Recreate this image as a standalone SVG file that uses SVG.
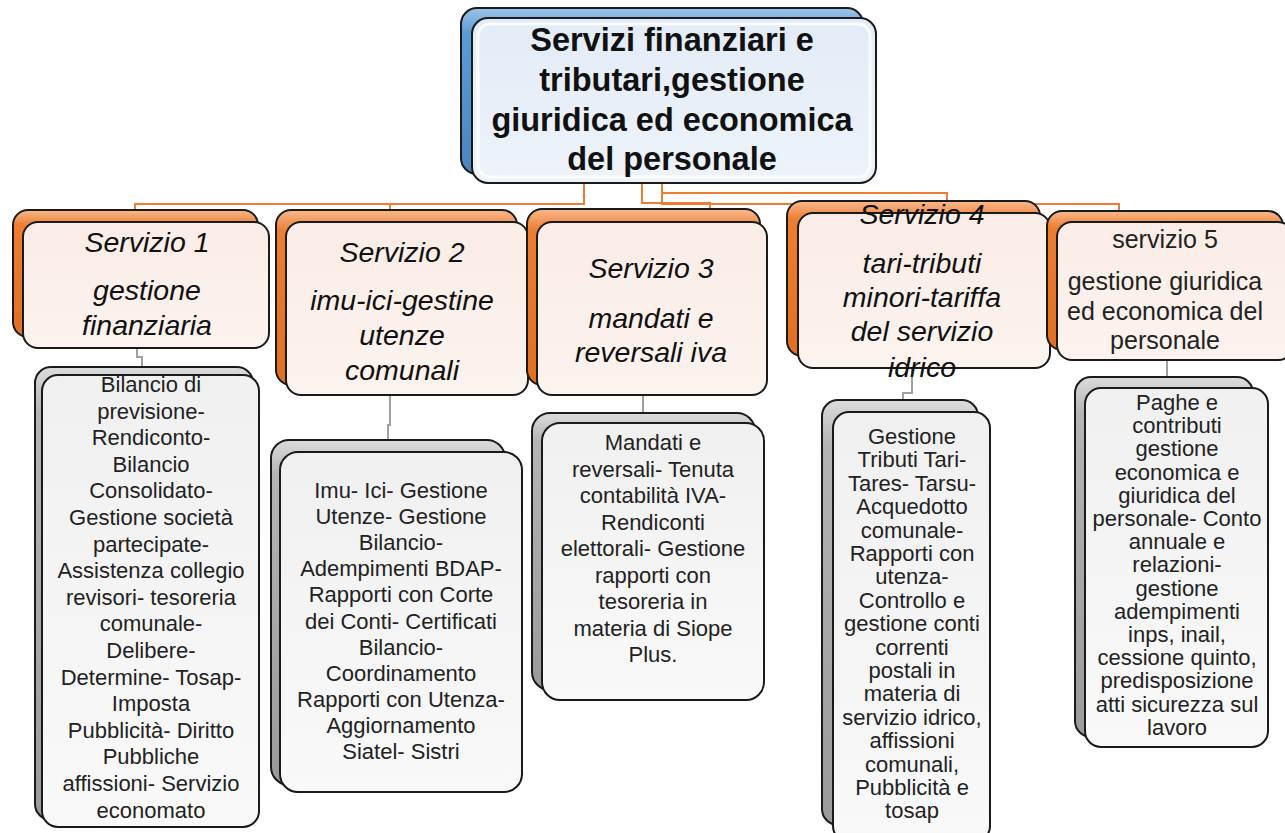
<svg xmlns="http://www.w3.org/2000/svg" width="1285" height="833" viewBox="0 0 1285 833">
<style>
.bk{stroke:#1a1a1a;stroke-width:2}
.fr{stroke:#1a1a1a;stroke-width:2}
.hl{fill:none;stroke:#ffffff;stroke-width:3;opacity:0.8}
.oc{fill:none;stroke:#ed7d31;stroke-width:2}
.gc{fill:none;stroke:#a0a0a0;stroke-width:2}
.tt{font-family:"Liberation Sans",Arial,sans-serif;font-weight:bold;font-size:32.5px;fill:#111;text-anchor:middle}
.st{font-family:"Liberation Sans",Arial,sans-serif;font-style:italic;font-size:28.5px;fill:#111;text-anchor:middle}
.s5{font-family:"Liberation Sans",Arial,sans-serif;font-size:25px;fill:#222;text-anchor:middle}
.ct{font-family:"Liberation Sans",Arial,sans-serif;font-size:22px;fill:#222;text-anchor:middle}
</style>
<defs>
<linearGradient id="gBlue" x1="0" y1="0" x2="0" y2="1"><stop offset="0" stop-color="#9dc3e6"/><stop offset="0.15" stop-color="#5b9bd5"/><stop offset="1" stop-color="#4a86c0"/></linearGradient>
<linearGradient id="gBlueF" x1="0" y1="0" x2="0" y2="1"><stop offset="0" stop-color="#e2ebf7"/><stop offset="1" stop-color="#eef3fa"/></linearGradient>
<linearGradient id="gOr" x1="0" y1="0" x2="0" y2="1"><stop offset="0" stop-color="#f8b98e"/><stop offset="0.12" stop-color="#ed7d31"/><stop offset="1" stop-color="#e06f22"/></linearGradient>
<linearGradient id="gOrF" x1="0" y1="0" x2="0" y2="1"><stop offset="0" stop-color="#faece6"/><stop offset="1" stop-color="#fcf3ef"/></linearGradient>
<linearGradient id="gGr" x1="0" y1="0" x2="0" y2="1"><stop offset="0" stop-color="#dcdcdc"/><stop offset="0.1" stop-color="#b4b4b4"/><stop offset="1" stop-color="#9a9a9a"/></linearGradient>
<linearGradient id="gGrF" x1="0" y1="0" x2="0" y2="1"><stop offset="0" stop-color="#f0f0f0"/><stop offset="1" stop-color="#f9f9f9"/></linearGradient>
</defs>

<g id="connectors">
<path class="oc" d="M584,184 V204 H135 V211"/>
<path class="oc" d="M390,204 V211"/>
<path class="oc" d="M642,184 V203 H710 V210"/>
<path class="oc" d="M662,184 V193 H947 V202"/>
<path class="oc" d="M662,193 V204 H1119 V212"/>
<path class="gc" d="M137,348 V357 H142 V368"/>
<path class="gc" d="M390,395 V425 H388 V441"/>
<path class="gc" d="M643,395 V414"/>
<path class="gc" d="M912,368 V393 H903 V401"/>
<path class="gc" d="M1167,360 V378"/>
</g>

<g id="root">
<rect class="bk" x="461" y="8" width="402" height="166" rx="16" fill="url(#gBlue)"/>
<rect class="fr" x="472" y="18" width="404" height="165" rx="16" fill="url(#gBlueF)"/>
<rect class="hl" x="478" y="24" width="392" height="153" rx="12" opacity="0.5"/>
<text class="tt" x="672" y="51">Servizi finanziari e</text>
<text class="tt" x="672" y="91">tributari,gestione</text>
<text class="tt" x="672" y="131">giuridica ed economica</text>
<text class="tt" x="672" y="170">del personale</text>
</g>

<g id="servizio1">
<rect class="bk" x="13" y="210" width="245" height="127" rx="15" fill="url(#gOr)"/>
<rect class="fr" x="23" y="222" width="246" height="126" rx="15" fill="url(#gOrF)"/>
<text class="st" x="147" y="252">Servizio 1</text>
<text class="st" x="147" y="300">gestione</text>
<text class="st" x="147" y="335">finanziaria</text>
</g>

<g id="servizio2">
<rect class="bk" x="276" y="210" width="241" height="175" rx="15" fill="url(#gOr)"/>
<rect class="fr" x="286" y="222" width="242" height="173" rx="15" fill="url(#gOrF)"/>
<text class="st" x="402" y="262">Servizio 2</text>
<text class="st" x="402" y="310">imu-ici-gestine</text>
<text class="st" x="402" y="345">utenze</text>
<text class="st" x="402" y="380">comunali</text>
</g>

<g id="servizio3">
<rect class="bk" x="527" y="209" width="233" height="176" rx="15" fill="url(#gOr)"/>
<rect class="fr" x="537" y="222" width="230" height="173" rx="15" fill="url(#gOrF)"/>
<text class="st" x="651" y="278">Servizio 3</text>
<text class="st" x="651" y="328">mandati e</text>
<text class="st" x="651" y="362">reversali iva</text>
</g>

<g id="servizio4">
<rect class="bk" x="787" y="201" width="253" height="155" rx="15" fill="url(#gOr)"/>
<rect class="fr" x="798" y="213" width="252" height="155" rx="15" fill="url(#gOrF)"/>
<text class="st" x="922" y="224">Servizio 4</text>
<text class="st" x="922" y="273">tari-tributi</text>
<text class="st" x="922" y="307">minori-tariffa</text>
<text class="st" x="922" y="341">del servizio</text>
<text class="st" x="922" y="377">idrico</text>
</g>

<g id="servizio5">
<rect class="bk" x="1047" y="211" width="236" height="139" rx="15" fill="url(#gOr)"/>
<rect class="fr" x="1057" y="222" width="236" height="138" rx="15" fill="url(#gOrF)"/>
<text class="s5" x="1165" y="248">servizio 5</text>
<text class="s5" x="1165" y="290">gestione giuridica</text>
<text class="s5" x="1165" y="320">ed economica del</text>
<text class="s5" x="1165" y="349">personale</text>
</g>

<g id="contenuto1">
<rect class="bk" x="35" y="367" width="218" height="453" rx="16" fill="url(#gGr)"/>
<rect class="fr" x="42" y="375" width="217" height="452" rx="16" fill="url(#gGrF)"/>
<text class="ct" x="151" y="392">Bilancio di</text>
<text class="ct" x="151" y="418.6">previsione-</text>
<text class="ct" x="151" y="445.2">Rendiconto-</text>
<text class="ct" x="151" y="471.8">Bilancio</text>
<text class="ct" x="151" y="498.4">Consolidato-</text>
<text class="ct" x="151" y="525">Gestione società</text>
<text class="ct" x="151" y="551.6">partecipate-</text>
<text class="ct" x="151" y="578.2">Assistenza collegio</text>
<text class="ct" x="151" y="604.8">revisori- tesoreria</text>
<text class="ct" x="151" y="631.4">comunale-</text>
<text class="ct" x="151" y="658">Delibere-</text>
<text class="ct" x="151" y="684.6">Determine- Tosap-</text>
<text class="ct" x="151" y="711.2">Imposta</text>
<text class="ct" x="151" y="737.8">Pubblicità- Diritto</text>
<text class="ct" x="151" y="764.4">Pubbliche</text>
<text class="ct" x="151" y="791">affissioni- Servizio</text>
<text class="ct" x="151" y="817.6">economato</text>
</g>

<g id="contenuto2">
<rect class="bk" x="271" y="440" width="234" height="345" rx="18" fill="url(#gGr)"/>
<rect class="fr" x="280" y="452" width="242" height="340" rx="18" fill="url(#gGrF)"/>
<text class="ct" x="401" y="498">Imu- Ici- Gestione</text>
<text class="ct" x="401" y="524.1">Utenze- Gestione</text>
<text class="ct" x="401" y="550.2">Bilancio-</text>
<text class="ct" x="401" y="576.3">Adempimenti BDAP-</text>
<text class="ct" x="401" y="602.4">Rapporti con Corte</text>
<text class="ct" x="401" y="628.5">dei Conti- Certificati</text>
<text class="ct" x="401" y="654.6">Bilancio-</text>
<text class="ct" x="401" y="680.7">Coordinamento</text>
<text class="ct" x="401" y="706.8">Rapporti con Utenza-</text>
<text class="ct" x="401" y="732.9">Aggiornamento</text>
<text class="ct" x="401" y="759">Siatel- Sistri</text>
</g>

<g id="contenuto3">
<rect class="bk" x="532" y="413" width="223" height="277" rx="18" fill="url(#gGr)"/>
<rect class="fr" x="542" y="423" width="222" height="277" rx="18" fill="url(#gGrF)"/>
<text class="ct" x="653" y="450">Mandati e</text>
<text class="ct" x="653" y="476.5">reversali- Tenuta</text>
<text class="ct" x="653" y="503">contabilità IVA-</text>
<text class="ct" x="653" y="529.5">Rendiconti</text>
<text class="ct" x="653" y="556">elettorali- Gestione</text>
<text class="ct" x="653" y="582.5">rapporti con</text>
<text class="ct" x="653" y="609">tesoreria in</text>
<text class="ct" x="653" y="635.5">materia di Siope</text>
<text class="ct" x="653" y="662">Plus.</text>
</g>

<g id="contenuto4">
<rect class="bk" x="822" y="400" width="156" height="425" rx="16" fill="url(#gGr)"/>
<rect class="fr" x="833" y="412" width="157" height="430" rx="16" fill="url(#gGrF)"/>
<text class="ct" x="912" y="444">Gestione</text>
<text class="ct" x="912" y="467.4">Tributi Tari-</text>
<text class="ct" x="912" y="490.8">Tares- Tarsu-</text>
<text class="ct" x="912" y="514.2">Acquedotto</text>
<text class="ct" x="912" y="537.6">comunale-</text>
<text class="ct" x="912" y="561">Rapporti con</text>
<text class="ct" x="912" y="584.4">utenza-</text>
<text class="ct" x="912" y="607.8">Controllo e</text>
<text class="ct" x="912" y="631.2">gestione conti</text>
<text class="ct" x="912" y="654.6">correnti</text>
<text class="ct" x="912" y="678">postali in</text>
<text class="ct" x="912" y="701.4">materia di</text>
<text class="ct" x="912" y="724.8">servizio idrico,</text>
<text class="ct" x="912" y="748.2">affissioni</text>
<text class="ct" x="912" y="771.6">comunali,</text>
<text class="ct" x="912" y="795">Pubblicità e</text>
<text class="ct" x="912" y="818.4">tosap</text>
</g>

<g id="contenuto5">
<rect class="bk" x="1075" y="377" width="178" height="360" rx="16" fill="url(#gGr)"/>
<rect class="fr" x="1085" y="388" width="183" height="359" rx="16" fill="url(#gGrF)"/>
<text class="ct" x="1177" y="410">Paghe e</text>
<text class="ct" x="1177" y="433.2">contributi</text>
<text class="ct" x="1177" y="456.4">gestione</text>
<text class="ct" x="1177" y="479.6">economica e</text>
<text class="ct" x="1177" y="502.8">giuridica del</text>
<text class="ct" x="1177" y="526">personale- Conto</text>
<text class="ct" x="1177" y="549.2">annuale e</text>
<text class="ct" x="1177" y="572.4">relazioni-</text>
<text class="ct" x="1177" y="595.6">gestione</text>
<text class="ct" x="1177" y="618.8">adempimenti</text>
<text class="ct" x="1177" y="642">inps, inail,</text>
<text class="ct" x="1177" y="665.2">cessione quinto,</text>
<text class="ct" x="1177" y="688.4">predisposizione</text>
<text class="ct" x="1177" y="711.6">atti sicurezza sul</text>
<text class="ct" x="1177" y="734.8">lavoro</text>
</g>
</svg>
